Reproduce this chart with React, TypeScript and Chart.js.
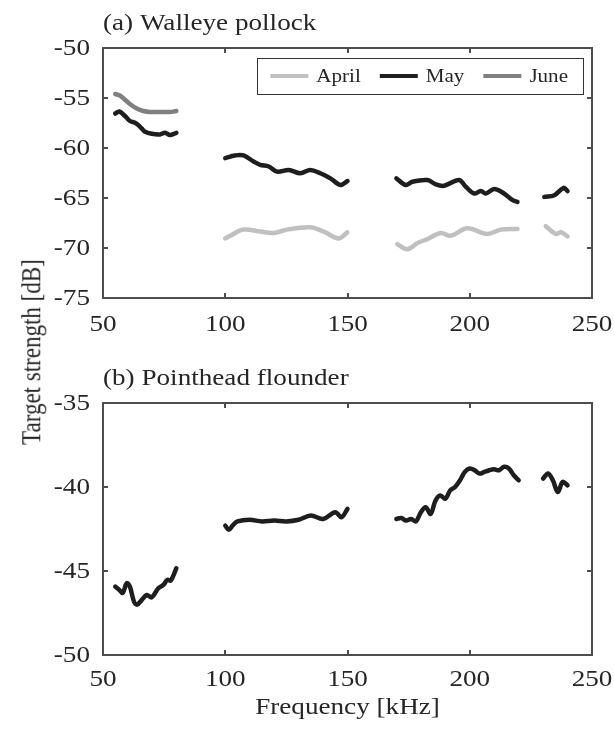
import React, { useEffect, useRef } from 'react';
import { Chart, registerables } from 'chart.js';
Chart.register(...registerables);

const FONT = '"Liberation Serif", "Times New Roman", serif';
const TEXT_COLOR = '#262626';
const AXIS_COLOR = '#4d4d4d';
const STRETCH = 1.18; // the original figure's text is horizontally stretched

// Shared x ticks (frequency, kHz)
const freqTicks = [50, 100, 150, 200, 250];

// Panel (a) Walleye pollock — null entries separate measured bands
const aprilFreq = [100, 102, 107.5, 114.3, 119.8, 125.3, 134.8, 140.3, 146.4, 149.9, null,
  170.4, 174.5, 178.6, 182.7, 188.1, 192.2, 199, 207.2, 212.7, 219.5, null,
  231.1, 235.2, 237.3, 240];
const aprilTS = [-69.04, -68.77, -68.16, -68.36, -68.5, -68.16, -67.93, -68.36, -69.04, -68.43, null,
  -69.62, -70.12, -69.51, -69.11, -68.5, -68.77, -68.03, -68.6, -68.16, -68.1, null,
  -67.82, -68.6, -68.43, -68.84];

const mayFreq = [55, 56.7, 59, 61, 63.1, 64.4, 65.8, 67.2, 69.9, 73.3, 75.4, 77.4, 80, null,
  100, 104, 107.5, 111.6, 114.3, 117.8, 121.2, 126, 130.7, 134.8, 138.9, 143, 147.1, 150, null,
  170, 173.8, 176.5, 182.7, 186.1, 189.5, 195.6, 198.4, 201.8, 204.5, 206.6, 210, 214, 217.5, 219.5, null,
  230.5, 234.6, 238.4, 240];
const mayTS = [-56.56, -56.35, -56.8, -57.3, -57.47, -57.7, -58.04, -58.38, -58.58, -58.64, -58.48, -58.71, -58.48, null,
  -61.01, -60.74, -60.74, -61.35, -61.68, -61.85, -62.36, -62.19, -62.53, -62.19, -62.53, -63.04, -63.7, -63.3, null,
  -63.04, -63.7, -63.37, -63.2, -63.64, -63.78, -63.2, -63.88, -64.55, -64.31, -64.55, -64.11, -64.55, -65.22, -65.39, null,
  -64.89, -64.72, -63.98, -64.31];

const juneFreq = [55, 57, 61, 63.8, 66.5, 69.2, 73.3, 77.4, 80];
const juneTS = [-54.6, -54.77, -55.6, -56.05, -56.3, -56.4, -56.4, -56.4, -56.3];

const pollockTicks = [-75, -70, -65, -60, -55, -50];

// Panel (b) Pointhead flounder
const flounderFreq = [55, 56.7, 58.1, 59.7, 61, 62.7, 64, 65.8, 67.9, 69.9, 72.6, 74.7, 76.3, 77.7, 80, null,
  100, 101.5, 103, 105, 110, 115, 120, 125, 130, 135, 140, 145, 147.5, 150, null,
  170, 172, 174, 176, 178, 180, 182, 184, 186, 188, 190, 192, 194, 196, 198, 200, 202, 204, 206, 208, 210, 212, 214, 216, 218, 220, null,
  230, 232, 234, 236, 238, 240];
const flounderTS = [-45.93, -46.13, -46.3, -45.73, -45.93, -46.83, -47.0, -46.73, -46.43, -46.57, -46.03, -45.83, -45.53, -45.57, -44.84, null,
  -42.3, -42.55, -42.3, -42.05, -41.95, -42.05, -42.0, -42.05, -41.95, -41.7, -41.9, -41.5, -41.8, -41.3, null,
  -41.9, -41.85, -42.0, -41.9, -42.05, -41.5, -41.2, -41.6, -40.8, -40.5, -40.7, -40.2, -40.0, -39.6, -39.1, -38.9, -39.0, -39.2, -39.1, -39.0, -38.95, -39.0, -38.8, -38.9, -39.3, -39.6, null,
  -39.5, -39.2, -39.6, -40.3, -39.7, -39.9];

const flounderTicks = [-50, -45, -40, -35];

const seriesLabels = ['April', 'May', 'June'];
const seriesColors = ['#c0c0c0', '#1e1e1e', '#808080'];

function toPoints(xs: (number | null)[], ys: (number | null)[]) {
  return xs.map((x, i) => ({ x: x as any, y: ys[i] as any }));
}

function drawText(ctx: CanvasRenderingContext2D, text: string, x: number, y: number,
  align: CanvasTextAlign, baseline: CanvasTextBaseline, sx: number) {
  ctx.save();
  ctx.translate(x, y);
  ctx.scale(sx, 1);
  ctx.textAlign = align;
  ctx.textBaseline = baseline;
  ctx.fillText(text, 0, 0);
  ctx.restore();
}

type PanelSpec = {
  title: string;
  titleY: number;
  yMin: number;
  yMax: number;
  yTicks: number[];
  padTop: number;
  xAxisH: number;
  xLabelY: number;
  xTitle?: string;
  xTitleY?: number;
  legend?: boolean;
};

function makePlugin(spec: PanelSpec) {
  return {
    id: 'panelDecor',
    afterDraw(chart: any) {
      const ctx = chart.ctx as CanvasRenderingContext2D;
      const { left, right, top, bottom } = chart.chartArea;
      const xs = chart.scales.x;
      const ys = chart.scales.y;
      ctx.save();
      ctx.strokeStyle = AXIS_COLOR;
      ctx.lineWidth = 2;
      const tl = 5;
      ctx.beginPath();
      freqTicks.forEach((v) => {
        const px = Math.round(xs.getPixelForValue(v));
        if (px <= left + 1 || px >= right - 1) return;
        ctx.moveTo(px, bottom);
        ctx.lineTo(px, bottom - tl);
        ctx.moveTo(px, top);
        ctx.lineTo(px, top + tl);
      });
      spec.yTicks.forEach((v) => {
        const py = Math.round(ys.getPixelForValue(v));
        if (py <= top + 1 || py >= bottom - 1) return;
        ctx.moveTo(left, py);
        ctx.lineTo(left + tl, py);
        ctx.moveTo(right, py);
        ctx.lineTo(right - tl, py);
      });
      ctx.stroke();
      ctx.strokeRect(left, top, right - left, bottom - top);

      ctx.fillStyle = TEXT_COLOR;
      ctx.font = `23px ${FONT}`;
      spec.yTicks.forEach((v) => {
        const py = ys.getPixelForValue(v);
        drawText(ctx, String(v), left - 13, py + 1, 'right', 'middle', STRETCH);
      });
      freqTicks.forEach((v) => {
        const px = xs.getPixelForValue(v);
        drawText(ctx, String(v), px, bottom + spec.xLabelY, 'center', 'middle', STRETCH);
      });

      drawText(ctx, spec.title, left, spec.titleY, 'left', 'alphabetic', STRETCH);

      if (spec.xTitle) {
        drawText(ctx, spec.xTitle, (left + right) / 2, bottom + (spec.xTitleY || 0), 'center', 'middle', STRETCH);
      }

      if (spec.legend) {
        const lsx = 1.08;
        const boxRight = right - 9;
        const boxTop = top + 10;
        const boxH = 36;
        ctx.font = `19.5px ${FONT}`;
        const lineLen = 38;
        const gapLT = 8;
        const gapItem = 19;
        const padL = 13;
        const padR = 15;
        const widths = seriesLabels.map((s) => ctx.measureText(s).width * lsx);
        let total = padL + padR;
        widths.forEach((w, i) => {
          total += lineLen + gapLT + w + (i < widths.length - 1 ? gapItem : 0);
        });
        const boxLeft = boxRight - total;
        ctx.fillStyle = '#ffffff';
        ctx.fillRect(boxLeft, boxTop, total, boxH);
        ctx.strokeStyle = '#333333';
        ctx.lineWidth = 1;
        ctx.strokeRect(Math.round(boxLeft) + 0.5, boxTop + 0.5, Math.round(total), boxH);
        let cx = boxLeft + padL;
        const cy = boxTop + boxH / 2;
        seriesLabels.forEach((s, i) => {
          ctx.strokeStyle = seriesColors[i];
          ctx.lineWidth = 4;
          ctx.beginPath();
          ctx.moveTo(cx, cy);
          ctx.lineTo(cx + lineLen, cy);
          ctx.stroke();
          cx += lineLen + gapLT;
          ctx.fillStyle = TEXT_COLOR;
          drawText(ctx, s, cx, cy + 1, 'left', 'middle', lsx);
          cx += widths[i] + gapItem;
        });
      }
      ctx.restore();
    },
  };
}

function buildConfig(spec: PanelSpec, datasets: any[]): any {
  return {
    type: 'line',
    data: { datasets },
    options: {
      animation: false,
      responsive: false,
      devicePixelRatio: 1,
      layout: { padding: { top: spec.padTop, right: 22, left: 0, bottom: 0 } },
      plugins: { legend: { display: false }, tooltip: { enabled: false }, title: { display: false } },
      elements: { point: { radius: 0 } },
      scales: {
        x: {
          type: 'linear',
          min: 50,
          max: 250,
          ticks: { display: false, stepSize: 50 },
          grid: { display: false, drawTicks: false },
          border: { display: false },
          afterFit: (s: any) => { s.height = spec.xAxisH; },
        },
        y: {
          type: 'linear',
          min: spec.yMin,
          max: spec.yMax,
          ticks: { display: false, stepSize: 5 },
          grid: { display: false, drawTicks: false },
          border: { display: false },
          afterFit: (s: any) => { s.width = 103; },
        },
      },
    },
    plugins: [makePlugin(spec)],
  };
}

const lineDs = (label: string, color: string, pts: any[]) => ({
  label,
  data: pts,
  borderColor: color,
  backgroundColor: color,
  borderWidth: 4.5,
  tension: 0.35,
  spanGaps: false,
  pointRadius: 0,
  borderCapStyle: 'round',
  borderJoinStyle: 'round',
});

export default function App() {
  const refA = useRef<HTMLCanvasElement>(null);
  const refB = useRef<HTMLCanvasElement>(null);

  useEffect(() => {
    const specA: PanelSpec = {
      title: '(a) Walleye pollock',
      titleY: 30,
      yMin: -75,
      yMax: -50,
      yTicks: pollockTicks,
      padTop: 48,
      xAxisH: 52,
      xLabelY: 27,
      legend: true,
    };
    const specB: PanelSpec = {
      title: '(b) Pointhead flounder',
      titleY: 35,
      yMin: -50,
      yMax: -35,
      yTicks: flounderTicks,
      padTop: 53,
      xAxisH: 77,
      xLabelY: 25,
      xTitle: 'Frequency [kHz]',
      xTitleY: 53,
    };
    const chartA = new Chart(refA.current!, buildConfig(specA, [
      lineDs(seriesLabels[0], seriesColors[0], toPoints(aprilFreq, aprilTS)),
      lineDs(seriesLabels[1], seriesColors[1], toPoints(mayFreq, mayTS)),
      lineDs(seriesLabels[2], seriesColors[2], toPoints(juneFreq, juneTS)),
    ]));
    const chartB = new Chart(refB.current!, buildConfig(specB, [
      lineDs('Pointhead flounder', seriesColors[1], toPoints(flounderFreq, flounderTS)),
    ]));
    return () => {
      chartA.destroy();
      chartB.destroy();
    };
  }, []);

  return (
    <div style={{ position: 'absolute', left: 0, top: 0, width: 614, height: 732, background: '#fff' }}>
      <canvas ref={refA} width={614} height={350} style={{ position: 'absolute', left: 0, top: 0, width: 614, height: 350 }} />
      <canvas ref={refB} width={614} height={382} style={{ position: 'absolute', left: 0, top: 350, width: 614, height: 382 }} />
      <div
        style={{
          position: 'absolute',
          left: 31,
          top: 352,
          transform: `translate(-50%, -50%) scaleX(${STRETCH}) rotate(-90deg)`,
          whiteSpace: 'nowrap',
          font: `23px ${FONT}`,
          color: TEXT_COLOR,
          lineHeight: 1,
        }}
      >
        Target strength [dB]
      </div>
    </div>
  );
}
